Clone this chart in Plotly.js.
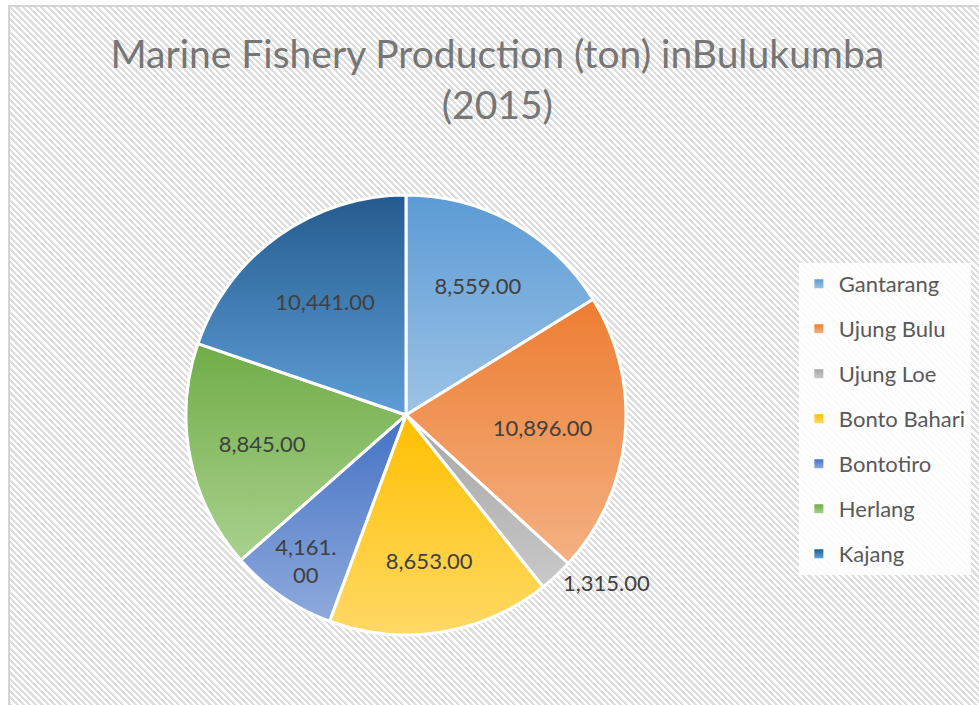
<!DOCTYPE html>
<html>
<head>
<meta charset="utf-8">
<script src="https://cdn.plot.ly/plotly-3.0.1.min.js"></script>
<style>
  html, body { margin: 0; padding: 0; background: #ffffff; width: 979px; height: 705px; overflow: hidden; }
  #bg {
    position: absolute; left: 8px; top: 5px; width: 990px; height: 720px;
    border-left: 2px solid #d4d4d4; border-top: 2px solid #d4d4d4;
    background: repeating-linear-gradient(45deg, #ffffff 0px, #ffffff 2.2px, #dedede 2.2px, #dedede 4.4px);
  }
  #chart { position: absolute; left: 0; top: 0; width: 979px; height: 705px; }
</style>
</head>
<body>
<div id="bg"></div>
<div id="chart"></div>
<script>
// ---- data ----
var districts = ["Gantarang", "Ujung Bulu", "Ujung Loe", "Bonto Bahari", "Bontotiro", "Herlang", "Kajang"];
var production = [8559, 10896, 1315, 8653, 4161, 8845, 10441];
var topColors = ["#5B9BD5", "#ED7D31", "#A5A5A5", "#FFC000", "#4472C4", "#70AD47", "#245B8E"];
var bottomColors = ["#9DC3E6", "#F4B183", "#C9C9C9", "#FFD966", "#8FAADC", "#A9D18E", "#5E9ED6"];
var labelPositions = ["inside", "inside", "outside", "inside", "inside", "inside", "inside"];
var titleText = "Marine Fishery Production (ton) inBulukumba<br>(2015)";

function fmt(v) {
  return v.toLocaleString("en-US", { minimumFractionDigits: 2, maximumFractionDigits: 2 });
}
var total = production.reduce(function (a, b) { return a + b; }, 0);
var labelTexts = production.map(function (v, i) {
  var s = fmt(v);
  if (labelPositions[i] === "inside" && v / total < 0.1) {
    var k = s.indexOf(".");
    s = s.slice(0, k + 1) + "<br>" + s.slice(k + 1);
  }
  return s;
});

var FONT = "Lato, 'Open Sans', sans-serif";

var traces = [{
  type: "pie",
  labels: districts,
  values: production,
  text: labelTexts,
  textinfo: "text",
  textposition: labelPositions,
  insidetextorientation: "horizontal",
  sort: false,
  direction: "clockwise",
  rotation: 0,
  showlegend: false,
  hoverinfo: "label+value",
  marker: { colors: topColors, line: { color: "#ffffff", width: 3 } },
  textfont: { family: FONT, size: 22, color: "#404040" },
  insidetextfont: { family: FONT, size: 22, color: "#404040" },
  outsidetextfont: { family: FONT, size: 22, color: "#404040" },
  domain: { x: [0.19, 0.6394], y: [0.0993, 0.7235] }
}];

districts.forEach(function (d, i) {
  traces.push({
    type: "scatter",
    x: [null], y: [null],
    mode: "markers",
    name: d,
    legendgroup: "g" + i,
    showlegend: true,
    marker: { symbol: "square", size: 9, color: topColors[i] },
    hoverinfo: "skip"
  });
});

var layout = {
  width: 979, height: 705,
  margin: { l: 0, r: 0, t: 0, b: 0 },
  paper_bgcolor: "rgba(0,0,0,0)",
  plot_bgcolor: "rgba(0,0,0,0)",
  title: {
    text: titleText,
    font: { family: FONT, size: 39, color: "#767676" },
    x: 0.508, xanchor: "center",
    y: 1 - 68 / 705, yanchor: "top", yref: "paper"
  },
  xaxis: { visible: false },
  yaxis: { visible: false },
  showlegend: true,
  legend: {
    x: 0.816, xanchor: "left",
    y: 1 - 263 / 705, yanchor: "top",
    bgcolor: "rgba(255,255,255,0.88)",
    borderwidth: 0,
    font: { family: FONT, size: 22, color: "#595959" },
    tracegroupgap: 13.4,
    itemwidth: 30,
    itemclick: false,
    itemdoubleclick: false
  }
};

Plotly.newPlot("chart", traces, layout, { displayModeBar: false, staticPlot: true }).then(function (gd) {
  var svgNS = "http://www.w3.org/2000/svg";
  var svg = gd.querySelector("svg.main-svg");
  var defs = document.createElementNS(svgNS, "defs");
  svg.insertBefore(defs, svg.firstChild);
  function grad(id, c1, c2) {
    var lg = document.createElementNS(svgNS, "linearGradient");
    lg.setAttribute("id", id);
    lg.setAttribute("x1", "0"); lg.setAttribute("y1", "0");
    lg.setAttribute("x2", "0"); lg.setAttribute("y2", "1");
    [[0, c1], [1, c2]].forEach(function (s) {
      var st = document.createElementNS(svgNS, "stop");
      st.setAttribute("offset", s[0]);
      st.setAttribute("stop-color", s[1]);
      lg.appendChild(st);
    });
    defs.appendChild(lg);
  }
  topColors.forEach(function (c, i) { grad("sliceGrad" + i, c, bottomColors[i]); });
  var slices = gd.querySelectorAll("g.slice path.surface");
  slices.forEach(function (p, i) { p.style.fill = "url(#sliceGrad" + i + ")"; });
  var pts = gd.querySelectorAll("g.legend g.traces path.scatterpts");
  pts.forEach(function (p, i) { p.style.fill = "url(#sliceGrad" + i + ")"; });
});
</script>
</body>
</html>
